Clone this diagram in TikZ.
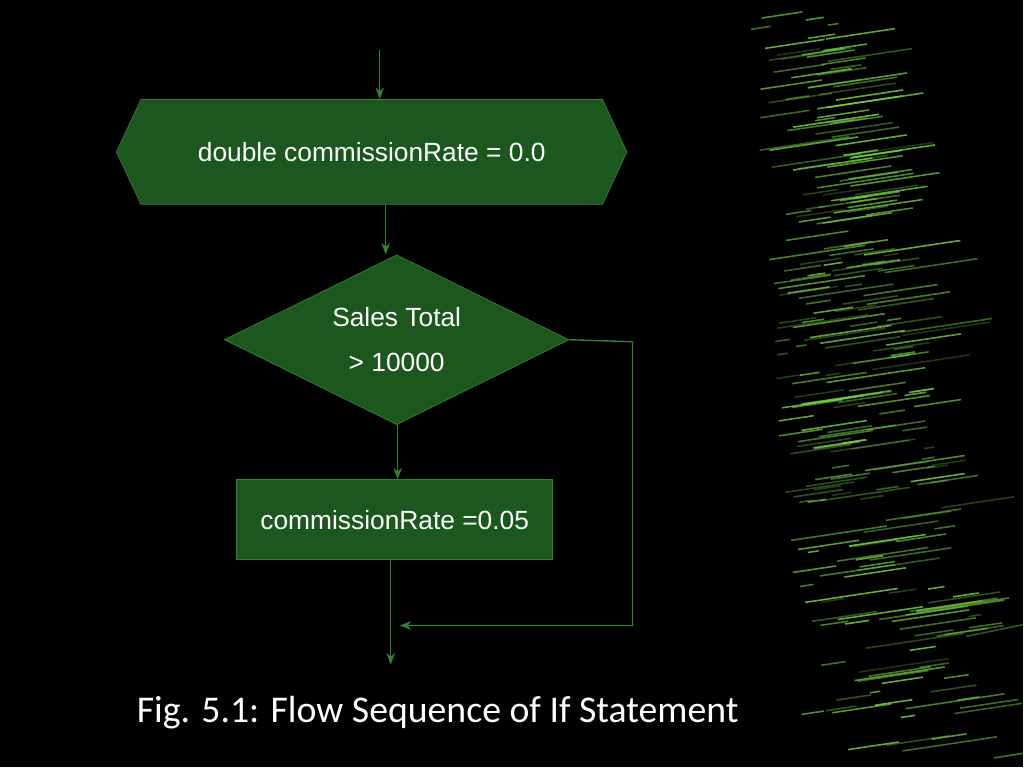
\documentclass[tikz,border=0pt]{standalone}
\usepackage{fontspec}
\setmainfont{Liberation Sans}
\newfontfamily\capfont{Carlito}
\usetikzlibrary{positioning, shapes.geometric, shapes.symbols, arrows.meta}
\definecolor{boxfill}{RGB}{28,88,30}
\definecolor{boxline}{RGB}{50,130,50}
\definecolor{codegreen}{RGB}{120,210,70}
\tikzset{>=Stealth}

\begin{document}
\begin{tikzpicture}[x=0.02cm, y=-0.02cm,
    every node/.style={text=white, font=\fontsize{15}{20}\selectfont},
    declbox/.style={shape=signal, signal to=west and east, signal pointer angle=130,
      draw=boxline, fill=boxfill, minimum width=10.22cm, minimum height=2.1cm, inner sep=0pt},
    testbox/.style={diamond, draw=boxline, fill=boxfill, aspect=2.03,
      minimum width=6.9cm, minimum height=3.4cm, inner sep=0pt, align=center},
    actbox/.style={rectangle, draw=boxline, fill=boxfill, minimum width=6.32cm, minimum height=1.6cm},
    flow/.style={boxline, thick, ->}]

  \fill[black] (0,0) rectangle (1024,768);

  % code streaks on the right
  \pgfmathsetseed{7}
  \foreach \i in {1,...,260} {
    \pgfmathsetmacro{\yy}{15+rnd*745}
    \pgfmathsetmacro{\xl}{745+(\yy/768)*60+rnd*(80+(\yy/768)*120)}
    \pgfmathsetmacro{\ll}{10+rnd*90}
    \pgfmathsetmacro{\op}{0.25+rnd*0.6}
    \draw[codegreen, opacity=\op, line width=0.9pt] (\xl,\yy) -- ({min(1024,\xl+\ll)},\yy-\ll*0.15);
  }

  \coordinate (start) at (380,50);
  \node[declbox] (decl) at (372,152) {double commissionRate = 0.0};
  \node[testbox] (test) at (397,340) {Sales Total\\[6pt]> 10000};
  \node[actbox] (act) at (395,520) {commissionRate =0.05};
  \coordinate (join) at (400,626);
  \coordinate (bend) at (633,342);
  \coordinate (stop) at (391,665);

  \draw[flow] (start) -- (decl.north -| start);
  \draw[flow] (decl.south -| 386,0) -- (test.north -| 386,0);
  \draw[flow] (test.south -| 398,0) -- (act.north -| 398,0);
  \draw[flow] (act.south -| stop) -- (stop);
  \draw[flow] (test.east) -- (bend) |- (join);

  \node[font=\capfont\fontsize{21.5}{26}\selectfont] (cap) at (438,713) {Fig. 5.1: Flow Sequence of If Statement};
\end{tikzpicture}
\end{document}
